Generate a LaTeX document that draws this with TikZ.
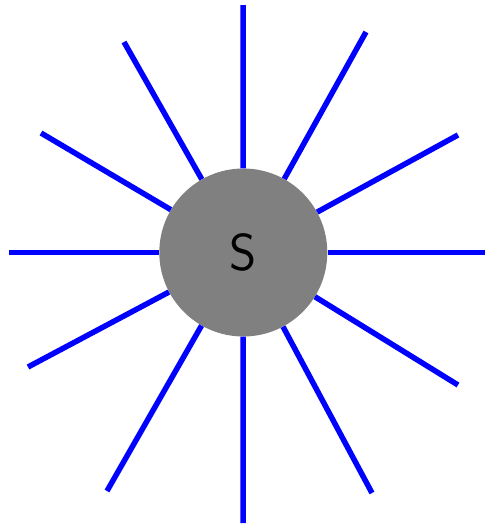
\documentclass[tikz,border=0pt]{standalone}
\begin{document}
\begin{tikzpicture}[x=1pt,y=-1pt,
  ray/.style={draw=blue,line width=5.5pt},
  sun/.style={circle,fill=gray,draw=none,minimum size=168pt,inner sep=0pt,
    font=\sffamily\fontsize{52}{52}\selectfont}]
\useasboundingbox (0,0) rectangle (485,528);
\node[sun] (s) at (243.3,252.5) {S};
\coordinate (e1) at (243,5);
\coordinate (e2) at (366,32);
\coordinate (e3) at (458,135);
\coordinate (e4) at (485,252.5);
\coordinate (e5) at (458,385);
\coordinate (e6) at (372,493);
\coordinate (e7) at (243,523);
\coordinate (e8) at (107,491);
\coordinate (e9) at (28,367);
\coordinate (e10) at (9,252.5);
\coordinate (e11) at (41,133);
\coordinate (e12) at (124,42);
\foreach \i in {1,...,12} \draw[ray] (s) -- (e\i);
\end{tikzpicture}
\end{document}
